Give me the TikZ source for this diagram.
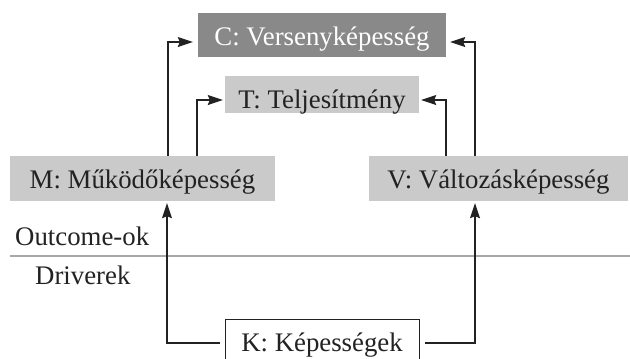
\documentclass[tikz,border=0pt]{standalone}
\usepackage{fontspec}
\setmainfont{Liberation Serif}
\usetikzlibrary{arrows.meta}
\definecolor{darkfill}{HTML}{898989}
\definecolor{lightfill}{HTML}{CACACA}
\definecolor{rulecol}{HTML}{A8A8A8}
\definecolor{ink}{HTML}{222222}
\begin{document}
\begin{tikzpicture}[x=1bp,y=-1bp,
  every node/.style={font=\fontsize{26.8bp}{30bp}\selectfont, inner sep=0pt, text=ink},
  box/.style={rectangle, text height=20bp, text depth=0bp},
  arr/.style={draw=ink, line width=1.3bp, -{Stealth[length=15bp,width=10bp,inset=2bp]}}]
\useasboundingbox (0,0) rectangle (630,358);
\clip (0,0) rectangle (630,358);
\node[box, fill=darkfill, text=white, minimum width=248bp, minimum height=44bp] (C) at (322,35) {C: Versenyképesség};
\node[box, fill=lightfill, minimum width=194bp, minimum height=37bp, text height=27bp] (T) at (322,94.5) {T: Teljesítmény};
\node[box, fill=lightfill, minimum width=265bp, minimum height=45bp, text height=19bp] (M) at (142.5,178.5) {M: Működőképesség};
\node[box, fill=lightfill, minimum width=259bp, minimum height=45bp, text height=19bp] (V) at (498.5,178.5) {V: Változásképesség};
\node[draw=ink, line width=1bp, fill=white, minimum width=194bp, minimum height=48bp, text height=16bp, text depth=0bp] (K) at (322,343) {K: Képességek};
\draw[rulecol, line width=1.5bp] (10,256) -- (630,256);
\node[anchor=base west] (out) at (15,245) {Outcome-ok};
\node[anchor=base west] (drv) at (35,284) {Driverek};
\draw[arr, shorten >=5bp] ([xshift=25.5bp]M.north) |- ([yshift=-7bp]C.west);
\draw[arr, shorten >=4bp] ([xshift=-23.5bp]V.north) |- ([yshift=-7bp]C.east);
\draw[arr, shorten >=2bp] ([xshift=54.5bp]M.north) |- ([yshift=-5.5bp]T.west);
\draw[arr, shorten >=2bp] ([xshift=-52.5bp]V.north) |- ([yshift=-5.5bp]T.east);
\draw[arr, shorten <=5bp, shorten >=2bp] (K.west) -| ([xshift=24.5bp]M.south);
\draw[arr, shorten <=5bp, shorten >=2bp] (K.east) -| ([xshift=-23.5bp]V.south);
\end{tikzpicture}
\end{document}
